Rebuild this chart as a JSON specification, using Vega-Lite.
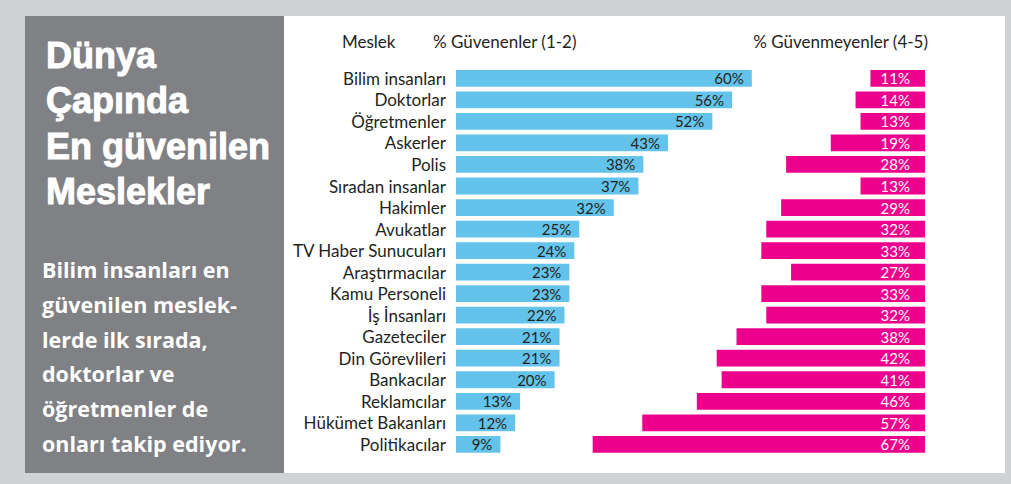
{
  "$schema": "https://vega.github.io/schema/vega-lite/v6.json",
  "background": "#d1d2d4",
  "padding": {"left": 25, "top": 16, "right": 6, "bottom": 11},
  "autosize": {"type": "pad"},
  "spacing": 0,
  "bounds": "flush",
  "config": {"view": {"stroke": null}, "font": "Lato"},
  "datasets": {
    "title": [
      {"i": 0, "t": "Dünya"},
      {"i": 1, "t": "Çapında"},
      {"i": 2, "t": "En güvenilen"},
      {"i": 3, "t": "Meslekler"}
    ],
    "body": [
      {"i": 0, "t": "Bilim insanları en"},
      {"i": 1, "t": "güvenilen meslek-"},
      {"i": 2, "t": "lerde ilk sırada,"},
      {"i": 3, "t": "doktorlar ve"},
      {"i": 4, "t": "öğretmenler de"},
      {"i": 5, "t": "onları takip ediyor."}
    ],
    "trust": [
      {"m": "Bilim insanları", "g": 0.60, "n": 0.11},
      {"m": "Doktorlar", "g": 0.56, "n": 0.14},
      {"m": "Öğretmenler", "g": 0.52, "n": 0.13},
      {"m": "Askerler", "g": 0.43, "n": 0.19},
      {"m": "Polis", "g": 0.38, "n": 0.28},
      {"m": "Sıradan insanlar", "g": 0.37, "n": 0.13},
      {"m": "Hakimler", "g": 0.32, "n": 0.29},
      {"m": "Avukatlar", "g": 0.25, "n": 0.32},
      {"m": "TV Haber Sunucuları", "g": 0.24, "n": 0.33},
      {"m": "Araştırmacılar", "g": 0.23, "n": 0.27},
      {"m": "Kamu Personeli", "g": 0.23, "n": 0.33},
      {"m": "İş İnsanları", "g": 0.22, "n": 0.32},
      {"m": "Gazeteciler", "g": 0.21, "n": 0.38},
      {"m": "Din Görevlileri", "g": 0.21, "n": 0.42},
      {"m": "Bankacılar", "g": 0.20, "n": 0.41},
      {"m": "Reklamcılar", "g": 0.13, "n": 0.46},
      {"m": "Hükümet Bakanları", "g": 0.12, "n": 0.57},
      {"m": "Politikacılar", "g": 0.09, "n": 0.67}
    ],
    "head": [
      {"h": "Meslek"}
    ]
  },
  "hconcat": [
    {
      "width": 259,
      "height": 457,
      "view": {"fill": "#808184"},
      "layer": [
        {
          "data": {"name": "title"},
          "mark": {"type": "text", "align": "left", "baseline": "alphabetic", "font": "Liberation Sans", "fontWeight": "bold", "fontSize": 36, "color": "#ffffff", "stroke": "#ffffff", "strokeWidth": 1, "dx": 21},
          "encoding": {
            "x": {"datum": 0, "type": "quantitative", "scale": {"domain": [0, 1]}, "axis": null},
            "y": {"field": "i", "type": "ordinal", "scale": {"type": "point", "range": [52, 188], "padding": 0}, "axis": null},
            "text": {"field": "t"}
          }
        },
        {
          "data": {"name": "body"},
          "mark": {"type": "text", "align": "left", "baseline": "alphabetic", "font": "Open Sans", "fontWeight": "bold", "fontSize": 21.5, "color": "#ffffff", "dx": 17},
          "encoding": {
            "x": {"datum": 0, "type": "quantitative", "scale": {"domain": [0, 1]}, "axis": null},
            "y": {"field": "i", "type": "ordinal", "scale": {"type": "point", "range": [262, 436], "padding": 0}, "axis": null},
            "text": {"field": "t"}
          }
        }
      ],
      "resolve": {"scale": {"y": "independent"}}
    },
    {
      "width": 721,
      "height": 457,
      "view": {"fill": "#ffffff"},
      "data": {"name": "trust"},
      "encoding": {
        "y": {"field": "m", "type": "nominal", "sort": null, "scale": {"range": [51.6, 439.1], "paddingInner": 0.22, "paddingOuter": 0.11}, "axis": null}
      },
      "layer": [
        {
          "mark": {"type": "bar", "color": "#63c3ea"},
          "encoding": {
            "x": {"field": "g", "type": "quantitative", "scale": {"domain": [0, 1], "range": [172, 665]}, "axis": null}
          }
        },
        {
          "mark": {"type": "text", "align": "right", "baseline": "middle", "fontSize": 15, "color": "#231f20", "dx": -8, "dy": 1},
          "encoding": {
            "x": {"field": "g", "type": "quantitative", "scale": {"domain": [0, 1], "range": [172, 665]}, "axis": null},
            "text": {"field": "g", "type": "quantitative", "format": ".0%"}
          }
        },
        {
          "mark": {"type": "bar", "color": "#ec008c"},
          "encoding": {
            "x": {"field": "n", "type": "quantitative", "scale": {"domain": [0, 1], "range": [641, 145]}, "axis": null}
          }
        },
        {
          "mark": {"type": "text", "align": "right", "baseline": "middle", "fontSize": 15, "color": "#ffffff", "dx": -15, "dy": 1},
          "encoding": {
            "x": {"datum": 0, "type": "quantitative", "scale": {"domain": [0, 1], "range": [641, 145]}, "axis": null},
            "text": {"field": "n", "type": "quantitative", "format": ".0%"}
          }
        },
        {
          "mark": {"type": "text", "align": "right", "baseline": "middle", "fontSize": 17, "color": "#231f20", "dx": -10, "dy": 1.5},
          "encoding": {
            "x": {"datum": 0, "type": "quantitative", "scale": {"domain": [0, 1], "range": [172, 665]}, "axis": null},
            "text": {"field": "m"}
          }
        },
        {
          "data": {"name": "head"},
          "mark": {"type": "text", "align": "left", "baseline": "middle", "fontSize": 17, "color": "#231f20", "dx": -114, "dy": -35},
          "encoding": {
            "x": {"datum": 0, "type": "quantitative", "scale": {"domain": [0, 1], "range": [172, 665]}, "axis": null},
            "y": {"datum": "Bilim insanları", "type": "nominal"},
            "text": {"value": "Meslek"}
          }
        },
        {
          "data": {"name": "head"},
          "mark": {"type": "text", "align": "left", "baseline": "middle", "fontSize": 17, "color": "#231f20", "dx": -23, "dy": -35},
          "encoding": {
            "x": {"datum": 0, "type": "quantitative", "scale": {"domain": [0, 1], "range": [172, 665]}, "axis": null},
            "y": {"datum": "Bilim insanları", "type": "nominal"},
            "text": {"value": "% Güvenenler (1-2)"}
          }
        },
        {
          "data": {"name": "head"},
          "mark": {"type": "text", "align": "right", "baseline": "middle", "fontSize": 17, "color": "#231f20", "dx": 3, "dy": -35},
          "encoding": {
            "x": {"datum": 0, "type": "quantitative", "scale": {"domain": [0, 1], "range": [641, 145]}, "axis": null},
            "y": {"datum": "Bilim insanları", "type": "nominal"},
            "text": {"value": "% Güvenmeyenler (4-5)"}
          }
        }
      ],
      "resolve": {"scale": {"x": "independent"}}
    }
  ]
}
